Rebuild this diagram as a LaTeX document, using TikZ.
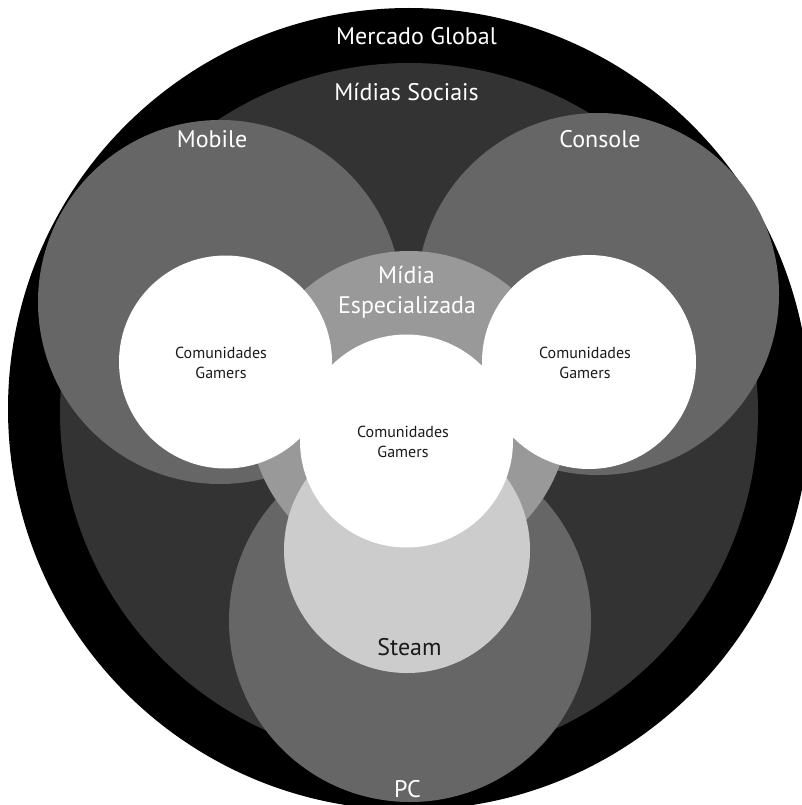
\documentclass[tikz,border=0pt]{standalone}
\usepackage{fontspec}
\setmainfont{PT Sans}
\begin{document}
\begin{tikzpicture}[x=1pt,y=-1pt]
\definecolor{gA}{HTML}{333333}
\definecolor{gB}{HTML}{666666}
\definecolor{gC}{HTML}{999999}
\definecolor{gD}{HTML}{CCCCCC}
\definecolor{txtdark}{HTML}{1A1A1A}
\tikzset{
  lbl/.style={font=\fontsize{24}{30}\selectfont, text=white, inner sep=0pt, anchor=base},
  lbldark/.style={lbl, text=txtdark},
  comm/.style={font=\fontsize{16}{20}\selectfont, text=txtdark, inner sep=0pt, anchor=base},
}
\useasboundingbox (0,0) rectangle (802,805);
\clip (0,0) rectangle (802,805);
\fill[white] (0,0) rectangle (802,805);
% circles, back to front
\fill[black] (409,409) circle (401pt);
\fill[gA] (409,412) circle (349pt);
\fill[gB] (220,302) circle (182pt);
\fill[gB] (598,294) circle (181pt);
\fill[gB] (410,621) circle (181pt);
\fill[gC] (409,411) circle (160pt);
\fill[gD] (407,550) circle (123pt);
\fill[white] (225.5,362) circle (106.5pt);
\fill[white] (589,362) circle (107pt);
\fill[white] (406.5,441) circle (106.5pt);
% labels
\node[lbl] (mercado) at (416.5,45) {Mercado Global};
\node[lbl] (sociais) at (406.5,101) {Mídias Sociais};
\node[lbl] (mobile) at (212,148) {Mobile};
\node[lbl] (console) at (600,148) {Console};
\node[lbl] (midia1) at (406.5,283) {Mídia};
\node[lbl] (midia2) at (407,313) {Especializada};
\node[comm] (comL1) at (221,358) {Comunidades};
\node[comm] (comL2) at (221,378) {Gamers};
\node[comm] (comR1) at (585,358) {Comunidades};
\node[comm] (comR2) at (585,378) {Gamers};
\node[comm] (comC1) at (403,437) {Comunidades};
\node[comm] (comC2) at (403,457) {Gamers};
\node[lbldark] (steam) at (409.5,655) {Steam};
\node[lbl] (pc) at (407.5,797) {PC};
\end{tikzpicture}
\end{document}
